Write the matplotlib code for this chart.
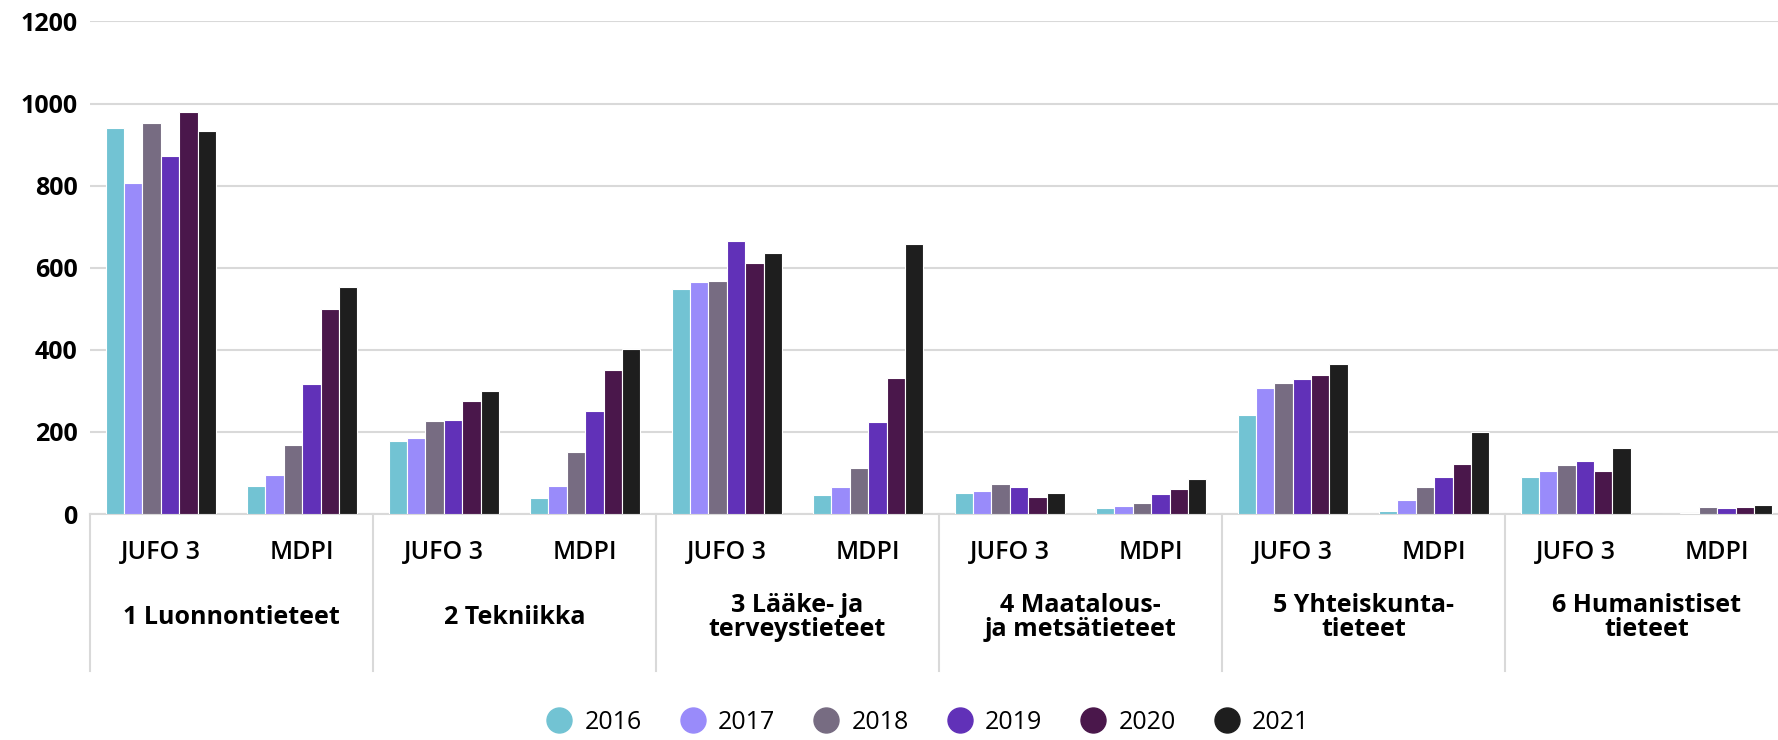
import numpy as np
import matplotlib
matplotlib.use("Agg")
import matplotlib.pyplot as plt
import matplotlib.transforms as mtransforms
from matplotlib.lines import Line2D

plt.rcParams["font.family"] = ["Open Sans", "DejaVu Sans"]

# --- data ---
fields = ["1 Luonnontieteet", "2 Tekniikka", "3 Lääke- ja\nterveystieteet",
          "4 Maatalous-\nja metsätieteet", "5 Yhteiskunta-\ntieteet", "6 Humanistiset\ntieteet"]
subgroups = ["JUFO 3", "MDPI"]
years = ["2016", "2017", "2018", "2019", "2020", "2021"]

# one list per year, 12 values: (field, JUFO 3 / MDPI) pairs
v2016 = [940, 69, 178, 40, 549, 46, 52, 14, 242, 7, 91, 1]
v2017 = [807, 95, 184, 68, 565, 65, 55, 19, 307, 34, 104, 3]
v2018 = [952, 168, 226, 152, 568, 111, 72, 28, 318, 65, 119, 17]
v2019 = [872, 317, 228, 250, 666, 225, 67, 48, 328, 89, 130, 14]
v2020 = [980, 500, 276, 350, 611, 332, 41, 61, 338, 121, 104, 16]
v2021 = [934, 553, 299, 402, 635, 658, 50, 86, 366, 199, 161, 23]
series = [v2016, v2017, v2018, v2019, v2020, v2021]

colors = ["#72C3D3", "#998BFA", "#776C82", "#6131B8", "#4A174B", "#1E1E1E"]
yticks = [0, 200, 400, 600, 800, 1000, 1200]

fig = plt.figure(figsize=(17.78, 7.40), dpi=100)
# plot area runs a little past the right edge of the image, as in the original
ax = fig.add_axes([0.0506, 0.3054, 0.955, 0.6656])

n = len(series)
slot = 0.13
x = np.arange(len(fields) * len(subgroups))
for i, (vals, c) in enumerate(zip(series, colors)):
    ax.bar(x + (i - (n - 1) / 2) * slot, vals, width=slot, color=c,
           edgecolor="white", linewidth=0.8, label=years[i], zorder=3)

ax.set_xlim(-0.5, len(x) - 0.5)
ax.set_ylim(0, 1200)
ax.set_yticks(yticks)
ax.set_yticklabels([str(t) for t in yticks], fontsize=18, fontweight="bold")
ax.tick_params(axis="y", length=0, pad=9)
ax.set_xticks([])
ax.grid(axis="y", color="#D9D9D9", linewidth=1.5, zorder=0)
ax.set_axisbelow(True)
for s in ["top", "right", "left"]:
    ax.spines[s].set_visible(False)
ax.spines["bottom"].set_color("#D9D9D9")
ax.spines["bottom"].set_linewidth(1.5)

# hierarchical x axis
trans = mtransforms.blended_transform_factory(ax.transData, ax.transAxes)
for k in range(len(fields)):
    xs = 2 * k - 0.5
    ax.plot([xs, xs], [0, -0.319], transform=trans, color="#D9D9D9",
            linewidth=1.5, clip_on=False)
    for j, sg in enumerate(subgroups):
        ax.text(2 * k + j, -0.079, sg, transform=trans, ha="center", va="center",
                fontsize=18, fontweight="semibold")
    ax.text(2 * k + 0.5, -0.211, fields[k], transform=trans, ha="center", va="center",
            fontsize=18, fontweight="bold", linespacing=0.95)

# legend with round markers
handles = [Line2D([0], [0], marker="o", linestyle="", markersize=18,
                  markerfacecolor=c, markeredgecolor=c) for c in colors]
fig.legend(handles, years, loc="center", bbox_to_anchor=(0.522, 0.024), ncol=6,
           frameon=False, fontsize=18, handletextpad=0.5, columnspacing=1.55,
           handlelength=1.0)

fig.savefig("out.png", dpi=100)
